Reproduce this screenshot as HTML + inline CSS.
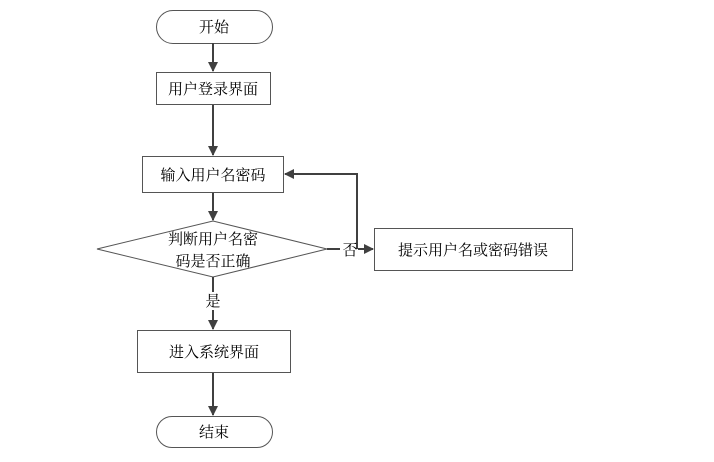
<!DOCTYPE html><html><head><meta charset="utf-8"><style>body{margin:0;background:#fff}</style></head><body>
<svg width="714" height="457" xmlns="http://www.w3.org/2000/svg" font-family="'Liberation Serif','Noto Serif CJK SC',serif" font-size="15" fill="#000">
<defs><marker id="a" markerWidth="10" markerHeight="10" refX="9" refY="5" orient="auto" markerUnits="userSpaceOnUse"><path d="M0,0 L10,5 L0,10 z" fill="#404040"/></marker></defs>
<g stroke="#555" stroke-width="1" fill="#fff">
<rect x="156.5" y="10.5" width="116" height="33" rx="16.5"/>
<rect x="156.5" y="72.5" width="114" height="32"/>
<rect x="142.5" y="156.5" width="141" height="36"/>
<polygon points="97,249 213,221 327,249 213,277"/>
<rect x="374.5" y="228.5" width="198" height="42"/>
<rect x="137.5" y="330.5" width="153" height="42"/>
<rect x="156.5" y="416.5" width="116" height="31" rx="15.5"/>
</g>
<g stroke="#404040" stroke-width="2" fill="none">
<line x1="213" y1="43" x2="213" y2="71" marker-end="url(#a)"/>
<line x1="213" y1="105" x2="213" y2="155" marker-end="url(#a)"/>
<line x1="213" y1="193" x2="213" y2="220" marker-end="url(#a)"/>
<line x1="213" y1="277" x2="213" y2="292"/>
<line x1="213" y1="310" x2="213" y2="329" marker-end="url(#a)"/>
<line x1="213" y1="373" x2="213" y2="415" marker-end="url(#a)"/>
<line x1="327" y1="249" x2="340" y2="249"/>
<line x1="358" y1="249" x2="373" y2="249" marker-end="url(#a)"/>
<polyline points="357,249 357,174 285,174" marker-end="url(#a)"/>
</g>
<g text-anchor="middle">
<text x="214" y="32">开始</text>
<text x="213" y="94">用户登录界面</text>
<text x="213" y="180">输入用户名密码</text>
<text x="213" y="244">判断用户名密</text>
<text x="213" y="266">码是否正确</text>
<text x="473" y="255">提示用户名或密码错误</text>
<text x="350" y="255">否</text>
<text x="213" y="306">是</text>
<text x="214" y="357">进入系统界面</text>
<text x="214" y="437">结束</text>
</g>
</svg></body></html>
